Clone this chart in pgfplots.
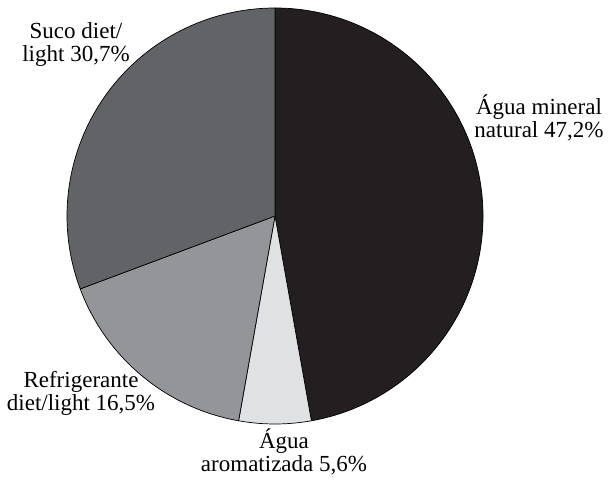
\documentclass[border=0pt]{standalone}
\usepackage{pgfplots}
\pgfplotsset{compat=1.18}
\usepackage{pgfplotstable}
\usepackage{fontspec}
\setmainfont{Liberation Serif}

\definecolor{sliceA}{HTML}{231F20}
\definecolor{sliceB}{HTML}{E0E1E3}
\definecolor{sliceC}{HTML}{939598}
\definecolor{sliceD}{HTML}{626366}

% shares in percent, clockwise from the top
\pgfplotstableread{
value
47.2
5.6
16.5
30.7
}\piedata

\begin{document}
\begin{tikzpicture}
\pgfplotstablegetelem{0}{value}\of\piedata \let\va\pgfplotsretval
\pgfplotstablegetelem{1}{value}\of\piedata \let\vb\pgfplotsretval
\pgfplotstablegetelem{2}{value}\of\piedata \let\vc\pgfplotsretval
\pgfplotstablegetelem{3}{value}\of\piedata \let\vd\pgfplotsretval
\pgfmathsetmacro\aA{90}
\pgfmathsetmacro\aB{\aA-3.6*\va}
\pgfmathsetmacro\aC{\aB-3.6*\vb}
\pgfmathsetmacro\aD{\aC-3.6*\vc}
\pgfmathsetmacro\aE{\aD-3.6*\vd}
\def\R{208pt}
\begin{axis}[
    width=610pt, height=479pt, scale only axis,
    xmin=0, xmax=610, ymin=0, ymax=479,
    hide axis, clip=false,
]
\path (axis cs:0,0) rectangle (axis cs:610,479);
\fill[sliceA, draw=black, line width=0.7pt, line join=round] (axis cs:275,263) -- ++(\aA:\R) arc[start angle=\aA, end angle=\aB, radius=\R] -- cycle;
\fill[sliceB, draw=black, line width=0.7pt, line join=round] (axis cs:275,263) -- ++(\aB:\R) arc[start angle=\aB, end angle=\aC, radius=\R] -- cycle;
\fill[sliceC, draw=black, line width=0.7pt, line join=round] (axis cs:275,263) -- ++(\aC:\R) arc[start angle=\aC, end angle=\aD, radius=\R] -- cycle;
\fill[sliceD, draw=black, line width=0.7pt, line join=round] (axis cs:275,263) -- ++(\aD:\R) arc[start angle=\aD, end angle=\aE, radius=\R] -- cycle;
\node[align=center, font=\fontsize{23}{23}\selectfont] at (axis cs:539,361) {Água mineral\\natural 47,2\%};
\node[align=center, font=\fontsize{23}{23}\selectfont] at (axis cs:76,434) {Suco diet/\\light 30,7\%};
\node[align=center, font=\fontsize{23}{23}\selectfont] at (axis cs:81,86) {Refrigerante\\diet/light 16,5\%};
\node[align=center, font=\fontsize{23}{23}\selectfont] at (axis cs:284,27) {Água\\aromatizada 5,6\%};
\end{axis}
\end{tikzpicture}
\end{document}
